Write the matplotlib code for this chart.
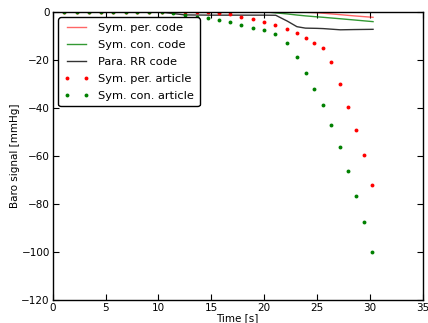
import numpy as np
import matplotlib
matplotlib.use("Agg")
import matplotlib.pyplot as plt

# beat times of the article data [s]
t_article = [1.07, 2.27, 3.43, 4.57, 5.70, 6.91, 8.00, 9.14, 10.31, 11.41,
             12.52, 13.62, 14.66, 15.73, 16.77, 17.84, 18.93, 20.00, 21.06, 22.14,
             23.08, 23.93, 24.72, 25.54, 26.36, 27.15, 27.91, 28.66, 29.42, 30.20]

# sympathetic peripheral response, article values [mmHg]
sym_per_article = [0, 0, 0, 0, 0, 0, 0, 0, 0, 0,
                   -0.1, 0, -0.1, -0.3, -0.9, -2.0, -3.1, -4.2, -5.5, -7.1,
                   -9.0, -11.1, -13.0, -15.1, -20.8, -30.0, -39.7, -49.2, -59.6, -72.0]

# sympathetic conduction response, article values [mmHg]
sym_con_article = [0, 0, 0, 0, 0, 0, 0, -0.1, -0.2, -0.6,
                   -1.3, -2.0, -2.6, -3.3, -4.1, -5.3, -6.6, -7.7, -9.1, -12.8,
                   -19.0, -25.5, -32.0, -38.9, -47.2, -56.5, -66.3, -76.6, -87.6, -100.0]

# model output (code)
t_code = [0, 10, 12.5, 15, 17, 20, 21.1, 22.2, 23.1, 23.9, 25.0, 25.6, 27.2, 28.5, 30.3]
sym_per_code = [0, 0, 0, 0, 0, 0, -0.05, -0.1, -0.15, -0.2, -0.4, -0.6, -1.2, -1.7, -2.3]
sym_con_code = [0, 0, 0, 0, 0, 0, -0.45, -0.9, -1.35, -1.7, -2.1, -2.3, -2.9, -3.4, -4.1]
para_rr_code = [0, 0, -1.3, -1.4, -1.4, -1.4, -1.45, -3.9, -6.2, -6.8, -6.9, -7.0, -7.5, -7.4, -7.3]

plt.rcParams["font.family"] = "DejaVu Sans"
plt.rcParams["font.size"] = 7.5

fig = plt.figure(figsize=(4.28, 3.23), dpi=100)
ax = fig.add_axes([0.123, 0.0712, 0.8647, 0.8923])

ax.plot(t_code, sym_per_code, color="r", lw=1.0, alpha=0.6, label="Sym. per. code")
ax.plot(t_code, sym_con_code, color="g", lw=1.0, alpha=0.8, label="Sym. con. code")
ax.plot(t_code, para_rr_code, color="k", lw=1.0, alpha=0.8, label="Para. RR code")
ax.plot(t_article, sym_per_article, "o", color="r", ms=2.8, mew=0, label="Sym. per. article")
ax.plot(t_article, sym_con_article, "o", color="g", ms=2.8, mew=0, label="Sym. con. article")

ax.set_xlim(0, 35)
ax.set_ylim(-120, 0)
ax.set_xticks(np.arange(0, 36, 5))
ax.set_yticks(np.arange(-120, 1, 20))
ax.tick_params(direction="in", top=True, right=True, length=4, width=0.8, pad=2)
for s in ax.spines.values():
    s.set_linewidth(1.0)

ax.set_xlabel("Time [s]", labelpad=0)
ax.set_ylabel("Baro signal [mmHg]", labelpad=1)

leg = ax.legend(loc="upper left", fontsize=8.2, numpoints=2, handlelength=2.2,
                borderaxespad=0.5, labelspacing=0.6, borderpad=0.5, fancybox=True,
                framealpha=1.0, edgecolor="k")
leg.get_frame().set_linewidth(1.0)

fig.savefig("out.png", dpi=100)
